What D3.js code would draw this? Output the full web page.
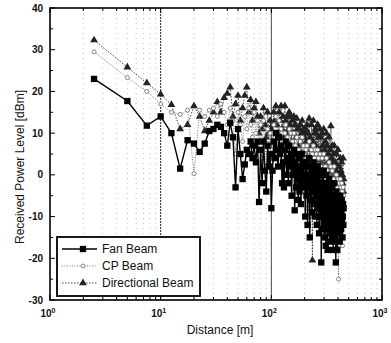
<!DOCTYPE html>
<html>
<head>
<meta charset="utf-8">
<script src="https://cdn.jsdelivr.net/npm/d3@7"></script>
<style>
  body { margin: 0; background: #fff; }
  text { font-family: "Liberation Sans", Arial, sans-serif; fill: #111; }
</style>
</head>
<body>
<svg id="chart"></svg>
<script>
const width = 391;
const height = 343;
const margin = { top: 8, right: 9, bottom: 44, left: 50 };

// distance [m]
const distance = [
  2.5, 5, 7.5, 10, 12.5, 15, 17.5, 20, 22.5, 25,
  27.5, 30, 32.5, 35, 37.5, 40, 42.5, 45, 47.5, 50,
  52.5, 55, 57.5, 60, 62.5, 65, 67.5, 70, 72.5, 75,
  77.5, 80, 82.5, 85, 87.5, 90, 92.5, 95, 97.5, 100,
  102.5, 105, 107.5, 110, 112.5, 115, 117.5, 120, 122.5, 125,
  127.5, 130, 132.5, 135, 137.5, 140, 142.5, 145, 147.5, 150,
  152.5, 155, 157.5, 160, 162.5, 165, 167.5, 170, 172.5, 175,
  177.5, 180, 182.5, 185, 187.5, 190, 192.5, 195, 197.5, 200,
  202.5, 205, 207.5, 210, 212.5, 215, 217.5, 220, 222.5, 225,
  227.5, 230, 232.5, 235, 237.5, 240, 242.5, 245, 247.5, 250,
  252.5, 255, 257.5, 260, 262.5, 265, 267.5, 270, 272.5, 275,
  277.5, 280, 282.5, 285, 287.5, 290, 292.5, 295, 297.5, 300,
  302.5, 305, 307.5, 310, 312.5, 315, 317.5, 320, 322.5, 325,
  327.5, 330, 332.5, 335, 337.5, 340, 342.5, 345, 347.5, 350,
  352.5, 355, 357.5, 360, 362.5, 365, 367.5, 370, 372.5, 375,
  377.5, 380, 382.5, 385, 387.5, 390, 392.5, 395, 397.5, 400,
  402.5, 405, 407.5, 410, 412.5, 415, 417.5, 420, 422.5, 425,
  427.5, 430, 432.5, 435, 437.5, 440, 442.5, 445, 447.5, 450
];

// received power [dBm]
const fanBeam = [
  23, 17.7, 11.8, 14, 10, 1.5, 8.3, 7.5, 5.5, 7.5,
  10.5, 11, 12, 11.5, 10, 7, 12.5, 9, -3, 11,
  5, -1, 2.5, 6, 5, 8, 4, 7, 3, 8,
  -6.5, 6, -2, 8, 1, -4, 7, 2, 5, -8,
  1, 8, 4, 10, 6, 2, 9, 5, 7, -2,
  3, -3, 6, 8, 0, 4, -2, 7, 2, 5,
  -5, 4, 0, 6, -8.5, 3, -3, 5, 0, -6,
  2, -4, 4, -7, 1, 5, -3, 3, -2, 0,
  -10, 2, -5, 3, -12, 0, -3, 4, -15, -1,
  -6, 2, -9, 1, -4, 3, -7, 0, -10, 2,
  -3, 1, -12, -5, 2, -8, 0, -14, -4, 1,
  -10, -2, -21, -6, 0, -13, -4, -9, 1, -15,
  -5, -11, -2, -17, -7, 0, -12, -3, -18, -8,
  -4, -13, -1, -9, -16, -5, -11, -2, -14, -7,
  -10, -3, -15, -8, -18, -5, -12, -2, -9, -16,
  -6, -11, -21, -8, -4, -13, -7, -18, -10, -5,
  -12, -8, -14, -6, -10, -16, -9, -5, -11, -7,
  -13, -9, -6, -11, -8, -15, -10, -7, -12, -8
];
const cpBeam = [
  29.5, 23.3, 20, 17, 15, 14.5, 15.5, 0.3, 15.5, 14,
  15.5, 16, 14, 17, 15, 12, 16, 13, 5, 15,
  12, 8, 14, 11, 16, 12, 9, 15, 10, 13,
  6, 12, 4, 13, 8, 2, 11, 5, 10, 3,
  6, 12, 9, 14, 10, 6, 13, 8, 11, 4,
  8, 2, 10, 12, 5, 9, 4, 11, 7, 10,
  0, 8, 4, 10, -4, 7, 2, 9, 5, 0,
  6, 0, 8, -2, 5, 9, 2, 7, 3, 5,
  -4, 6, 0, 7, -8, 4, 1, 8, -10, 3,
  -2, 6, -5, 5, 0, 7, -3, 4, -6, 6,
  1, 5, -8, 0, 6, -4, 4, -10, 0, 5,
  -6, 2, -14, -2, 4, -8, 0, -5, 5, -10,
  -1, -6, 2, -12, -3, 4, -8, 1, -13, -4,
  0, -8, 3, -5, -11, -1, -7, 2, -9, -3,
  -6, 1, -10, -4, -13, -1, -8, 2, -5, -12,
  -2, -7, -16, -4, 0, -9, -3, -14, -6, -1,
  -8, -25, -10, -2, -6, -12, -4, -1, -7, -3,
  -9, -5, -2, -7, -4, -17, -6, -3, -8, -5
];
const directionalBeam = [
  32.3, 25.8, 22, 19.3, 16.8, 11, 12, 16.5, 14, 10.5,
  13, 15, 17.5, 15, 18.5, 19.5, 21, 14, 17, 19,
  13, 16, 19, 21, 15, 18, 13, 16, 17.5, 14,
  10, 14, 11, 16, 12, 9, 15, 10, 13, 11,
  12, 15, 13, 16.5, 12, 10, 15, 13, 16.5, 11,
  14, 9, 16.5, 13, 10, 14, 11, 15, 12, 14,
  8, 13, 10, 14, 6, 12, 9, 13.5, 11, 7,
  11, 6, 12, 8, 10, 13, 7, 11, 9, 10,
  5, 11, 8, 12, -3, 10, 7, 13.5, 4, 9,
  6, 12, 4, -20.5, 8, 13, 5, 10, 3, 11,
  7, 10, 0, 5, 12, 3, 9, -2, 6, 11,
  4, 9, -8, 3, 10, 0, 7, 2, 11, -4,
  6, 1, 8, -6, 4, 10, -2, 7, -7, 3,
  5, -3, 9, 1, -5, 6, 0, 11.7, -2, 4,
  1, 7, -4, 3, -8, 5, -1, 7, 2, -6,
  3, -2, -12, 1, 5, -4, 2, -9, 0, 6,
  -3, -16, -5, 2, -1, -8, 0, 4, -2, 1,
  -6, -1, 3, -3, 0, -12, -2, 4, -4, -1
];

const seriesNames = ['Fan Beam', 'CP Beam', 'Directional Beam'];
const xTickLabels = ['0', '1', '2', '3'];
const yTicks = [-30, -20, -10, 0, 10, 20, 30, 40];

const svg = d3.select('#chart')
  .attr('width', width)
  .attr('height', height);

const x = d3.scaleLog()
  .domain([1, 1000])
  .range([margin.left, width - margin.right]);

const y = d3.scaleLinear()
  .domain([-30, 40])
  .range([height - margin.bottom + 1, margin.top]);

const x0 = margin.left, x1 = width - margin.right;
const y0 = y(-30), y1 = y(40);

// vertical grid on minor ticks
const allTicks = x.ticks();
svg.append('g')
  .selectAll('line')
  .data(allTicks.filter(t => t > 1 && t < 1000))
  .join('line')
  .attr('x1', d => x(d)).attr('x2', d => x(d))
  .attr('y1', y1).attr('y2', y0)
  .attr('stroke', d => d === 10 ? '#222' : d === 100 ? '#444' : '#b5b5b5')
  .attr('stroke-width', d => d === 10 || d === 100 ? 1 : 0.8)
  .attr('stroke-dasharray', d => d === 100 ? null : d === 10 ? '2,1' : '1,4');

// series
const series = [
  { name: seriesNames[2], values: directionalBeam, color: '#444', dash: '1.5,1.5', width: 1 },
  { name: seriesNames[1], values: cpBeam, color: '#7a7a7a', dash: '1,1.5', width: 1 },
  { name: seriesNames[0], values: fanBeam, color: '#000', dash: null, width: 1.4 }
];

const line = d3.line()
  .x(d => x(d[0]))
  .y(d => y(d[1]));

const sq = d3.symbol().type(d3.symbolSquare).size(40);
const tri = d3.symbol().type(d3.symbolTriangle).size(26);

function drawMarker(g, name, px, py) {
  if (name === 'Fan Beam') {
    g.append('path').attr('d', sq()).attr('transform', `translate(${px},${py})`).attr('fill', '#000');
  } else if (name === 'CP Beam') {
    g.append('circle').attr('cx', px).attr('cy', py).attr('r', 2)
      .attr('fill', '#fff').attr('stroke', '#777').attr('stroke-width', 0.9);
  } else {
    g.append('path').attr('d', tri()).attr('transform', `translate(${px},${py})`).attr('fill', '#222');
  }
}

series.forEach(s => {
  const pts = distance.map((d, i) => [d, s.values[i]]);
  const g = svg.append('g');
  g.append('path')
    .datum(pts)
    .attr('d', line)
    .attr('fill', 'none')
    .attr('stroke', s.color)
    .attr('stroke-width', s.width)
    .attr('stroke-dasharray', s.dash);
  pts.forEach(p => drawMarker(g, s.name, x(p[0]), y(p[1])));
});

// frame
svg.append('rect')
  .attr('x', x0).attr('y', y1)
  .attr('width', x1 - x0).attr('height', y0 - y1)
  .attr('fill', 'none').attr('stroke', '#000').attr('stroke-width', 1.6);

// x ticks (inside, bottom and top)
svg.append('g')
  .selectAll('line')
  .data(allTicks)
  .join('line')
  .attr('x1', d => x(d)).attr('x2', d => x(d))
  .attr('y1', y0).attr('y2', d => y0 - ([1, 10, 100, 1000].includes(d) ? 5 : 3))
  .attr('stroke', '#000');
svg.append('g')
  .selectAll('line')
  .data(allTicks)
  .join('line')
  .attr('x1', d => x(d)).attr('x2', d => x(d))
  .attr('y1', y1).attr('y2', d => y1 + ([1, 10, 100, 1000].includes(d) ? 5 : 3))
  .attr('stroke', '#000');

// y ticks (inside, left and right)
const yMinor = d3.range(-30, 41, 5);
svg.append('g')
  .selectAll('line')
  .data(yMinor)
  .join('line')
  .attr('x1', x0).attr('x2', d => x0 + (d % 10 === 0 ? 5 : 3))
  .attr('y1', d => y(d)).attr('y2', d => y(d))
  .attr('stroke', '#000');
svg.append('g')
  .selectAll('line')
  .data(yMinor)
  .join('line')
  .attr('x1', x1).attr('x2', d => x1 - (d % 10 === 0 ? 5 : 3))
  .attr('y1', d => y(d)).attr('y2', d => y(d))
  .attr('stroke', '#000');

// y tick labels
svg.append('g')
  .selectAll('text')
  .data(yTicks)
  .join('text')
  .attr('x', x0 - 7)
  .attr('y', d => y(d) + 3.5)
  .attr('text-anchor', 'end')
  .style('font-size', '10px')
  .style('font-weight', 'bold')
  .text(d => d);

// x tick labels 10^n
const xl = svg.append('g')
  .selectAll('text')
  .data(xTickLabels)
  .join('text')
  .attr('x', (d, i) => x(Math.pow(10, i)) - 2)
  .attr('y', y0 + 17)
  .attr('text-anchor', 'middle')
  .style('font-size', '10px')
  .style('font-weight', 'bold');
xl.append('tspan').text('10');
xl.append('tspan').attr('dy', -4).style('font-size', '7px').text(d => d);

// axis titles
svg.append('text')
  .attr('x', (x0 + x1) / 2 + 4)
  .attr('y', 334)
  .attr('text-anchor', 'middle')
  .style('font-size', '12px')
  .text('Distance [m]');

svg.append('text')
  .attr('transform', `translate(24,${(y0 + y1) / 2 + 13}) rotate(-90)`)
  .attr('text-anchor', 'middle')
  .style('font-size', '12px')
  .text('Received Power Level [dBm]');

// legend
const lg = svg.append('g');
lg.append('rect')
  .attr('x', 57).attr('y', 237)
  .attr('width', 143).attr('height', 59)
  .attr('fill', '#fff').attr('stroke', '#000').attr('stroke-width', 1.8);

const legendItems = [
  { name: seriesNames[0], color: '#000', dash: null, w: 1.4 },
  { name: seriesNames[1], color: '#7a7a7a', dash: '1,1.5', w: 1 },
  { name: seriesNames[2], color: '#444', dash: '1.5,1.5', w: 1 }
];
legendItems.forEach((it, i) => {
  const ly = 249 + i * 17;
  lg.append('line')
    .attr('x1', 62).attr('x2', 97)
    .attr('y1', ly).attr('y2', ly)
    .attr('stroke', it.color).attr('stroke-width', it.w)
    .attr('stroke-dasharray', it.dash);
  drawMarker(lg, it.name, 83, ly);
  lg.append('text')
    .attr('x', 102).attr('y', ly + 4)
    .style('font-size', '12px')
    .text(it.name);
});
</script>
</body>
</html>
